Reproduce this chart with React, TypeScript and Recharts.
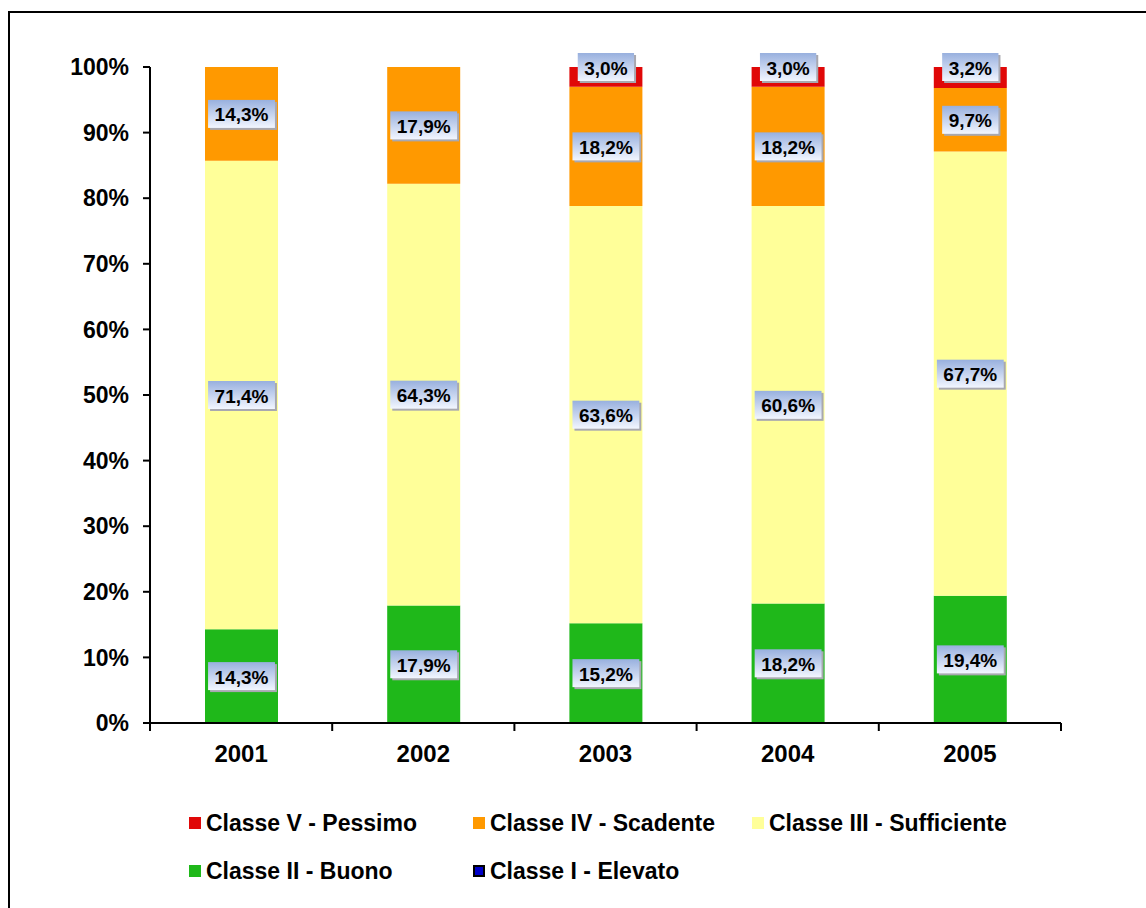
import { BarChart, Bar, XAxis, YAxis, LabelList } from "recharts";

const years = ["2001", "2002", "2003", "2004", "2005"];
const classeI = [0, 0, 0, 0, 0];
const classeII = [14.3, 17.9, 15.2, 18.2, 19.4];
const classeIII = [71.4, 64.3, 63.6, 60.6, 67.7];
const classeIV = [14.3, 17.9, 18.2, 18.2, 9.7];
const classeV = [0, 0, 3.0, 3.0, 3.2];
const yTicks = [0, 10, 20, 30, 40, 50, 60, 70, 80, 90, 100];

const SERIES = [
  { key: "I", name: "Classe I - Elevato", color: "#0000C8", values: classeI },
  { key: "II", name: "Classe II - Buono", color: "#1FB81A", values: classeII },
  { key: "III", name: "Classe III - Sufficiente", color: "#FFFF99", values: classeIII },
  { key: "IV", name: "Classe IV - Scadente", color: "#FF9900", values: classeIV },
  { key: "V", name: "Classe V - Pessimo", color: "#E00808", values: classeV },
];

const data = years.map((y, i) => {
  const row: Record<string, any> = { year: y };
  SERIES.forEach((s) => (row[s.key] = s.values[i]));
  return row;
});

const FONT = '"Liberation Sans", Arial, sans-serif';

// rough Arial bold widths
function textWidth(t: string, fs: number) {
  let w = 0;
  for (const c of t) {
    if (c === ",") w += 0.278;
    else if (c === "%") w += 0.889;
    else w += 0.556;
  }
  return w * fs;
}

function SegmentLabel(props: any) {
  const { x, y, width, height, value } = props;
  let v = Array.isArray(value) ? value[1] - value[0] : Number(value);
  if (!v || !height || Math.abs(height) < 1) return null;
  v = Math.round(v * 10) / 10;
  const text = v.toFixed(1).replace(".", ",") + "%";
  const fs = 19;
  const bw = textWidth(text, fs) + 13;
  const bh = 28;
  const cx = x + width / 2;
  const cy = height < bh ? y : y + height / 2;
  return (
    <g>
      <defs>
        <linearGradient id="lblGrad" x1="0" y1="0" x2="0" y2="1">
          <stop offset="0%" stopColor="#98B0DE" />
          <stop offset="100%" stopColor="#F2F6FF" />
        </linearGradient>
      </defs>
      <rect x={cx - bw / 2 + 2} y={cy - bh / 2 + 2} width={bw} height={bh} fill="#A8A8B0" />
      <rect x={cx - bw / 2} y={cy - bh / 2} width={bw} height={bh} fill="url(#lblGrad)" />
      <text
        x={cx}
        y={cy + 1}
        textAnchor="middle"
        dominantBaseline="central"
        fontFamily={FONT}
        fontWeight="bold"
        fontSize={fs}
        fill="#000"
      >
        {text}
      </text>
    </g>
  );
}

function XTick(props: any) {
  const { x, y, payload, index } = props;
  const off = payload?.offset ?? 91;
  return (
    <g>
      <line x1={x - off} y1={y - 8} x2={x - off} y2={y} stroke="#000" strokeWidth={2} />
      {index === years.length - 1 && (
        <line x1={x + off} y1={y - 8} x2={x + off} y2={y} stroke="#000" strokeWidth={2} />
      )}
      <text
        x={x}
        y={y + 31}
        textAnchor="middle"
        fontFamily={FONT}
        fontWeight="bold"
        fontSize={24}
        fill="#000"
      >
        {payload.value}
      </text>
    </g>
  );
}

const legendRows = [
  [SERIES[4], SERIES[3], SERIES[2]],
  [SERIES[1], SERIES[0]],
];
const legendCols = [189, 473, 752];
const legendRowY = [823, 871];

export default function App() {
  return (
    <div
      style={{
        position: "absolute",
        left: 0,
        top: 0,
        width: 1146,
        height: 908,
        overflow: "hidden",
        background: "#fff",
        fontFamily: FONT,
      }}
    >
      <div
        style={{
          position: "absolute",
          left: 8,
          top: 11,
          width: 1300,
          height: 1000,
          borderTop: "2px solid #000",
          borderLeft: "2px solid #000",
        }}
      />
      <div style={{ position: "absolute", left: 0, top: 0 }}>
        <BarChart
          width={1146}
          height={908}
          data={data}
          margin={{ top: 67, right: 85, bottom: 125, left: 50 }}
          barSize={73}
        >
          <XAxis
            dataKey="year"
            height={60}
            axisLine={{ stroke: "#000", strokeWidth: 2 }}
            tickLine={false}
            tick={<XTick />}
            interval={0}
          />
          <YAxis
            width={100}
            type="number"
            domain={[0, 100]}
            ticks={yTicks}
            allowDataOverflow
            tickFormatter={(v) => `${v}%`}
            axisLine={{ stroke: "#000", strokeWidth: 2 }}
            tickLine={{ stroke: "#000", strokeWidth: 2 }}
            tickSize={7}
            tickMargin={14}
            tick={{ fontFamily: FONT, fontWeight: "bold", fontSize: 23, fill: "#000" }}
          />
          {SERIES.map((s) => (
            <Bar
              key={s.key}
              dataKey={s.key}
              name={s.name}
              stackId="a"
              fill={s.color}
              isAnimationActive={false}
            >
              <LabelList dataKey={s.key} content={<SegmentLabel />} />
            </Bar>
          ))}
        </BarChart>
      </div>
      {legendRows.map((row, r) =>
        row.map((s, c) => (
          <div
            key={s.key}
            style={{
              position: "absolute",
              left: legendCols[c],
              top: legendRowY[r] - 14,
              height: 28,
              display: "flex",
              alignItems: "center",
              whiteSpace: "nowrap",
            }}
          >
            <span
              style={{
                display: "inline-block",
                boxSizing: "border-box",
                width: 12,
                height: 12,
                background: s.color,
                border: s.key === "I" ? "2px solid #000" : "none",
                marginRight: 5,
              }}
            />
            <span style={{ fontWeight: "bold", fontSize: 23, color: "#000" }}>{s.name}</span>
          </div>
        ))
      )}
    </div>
  );
}
